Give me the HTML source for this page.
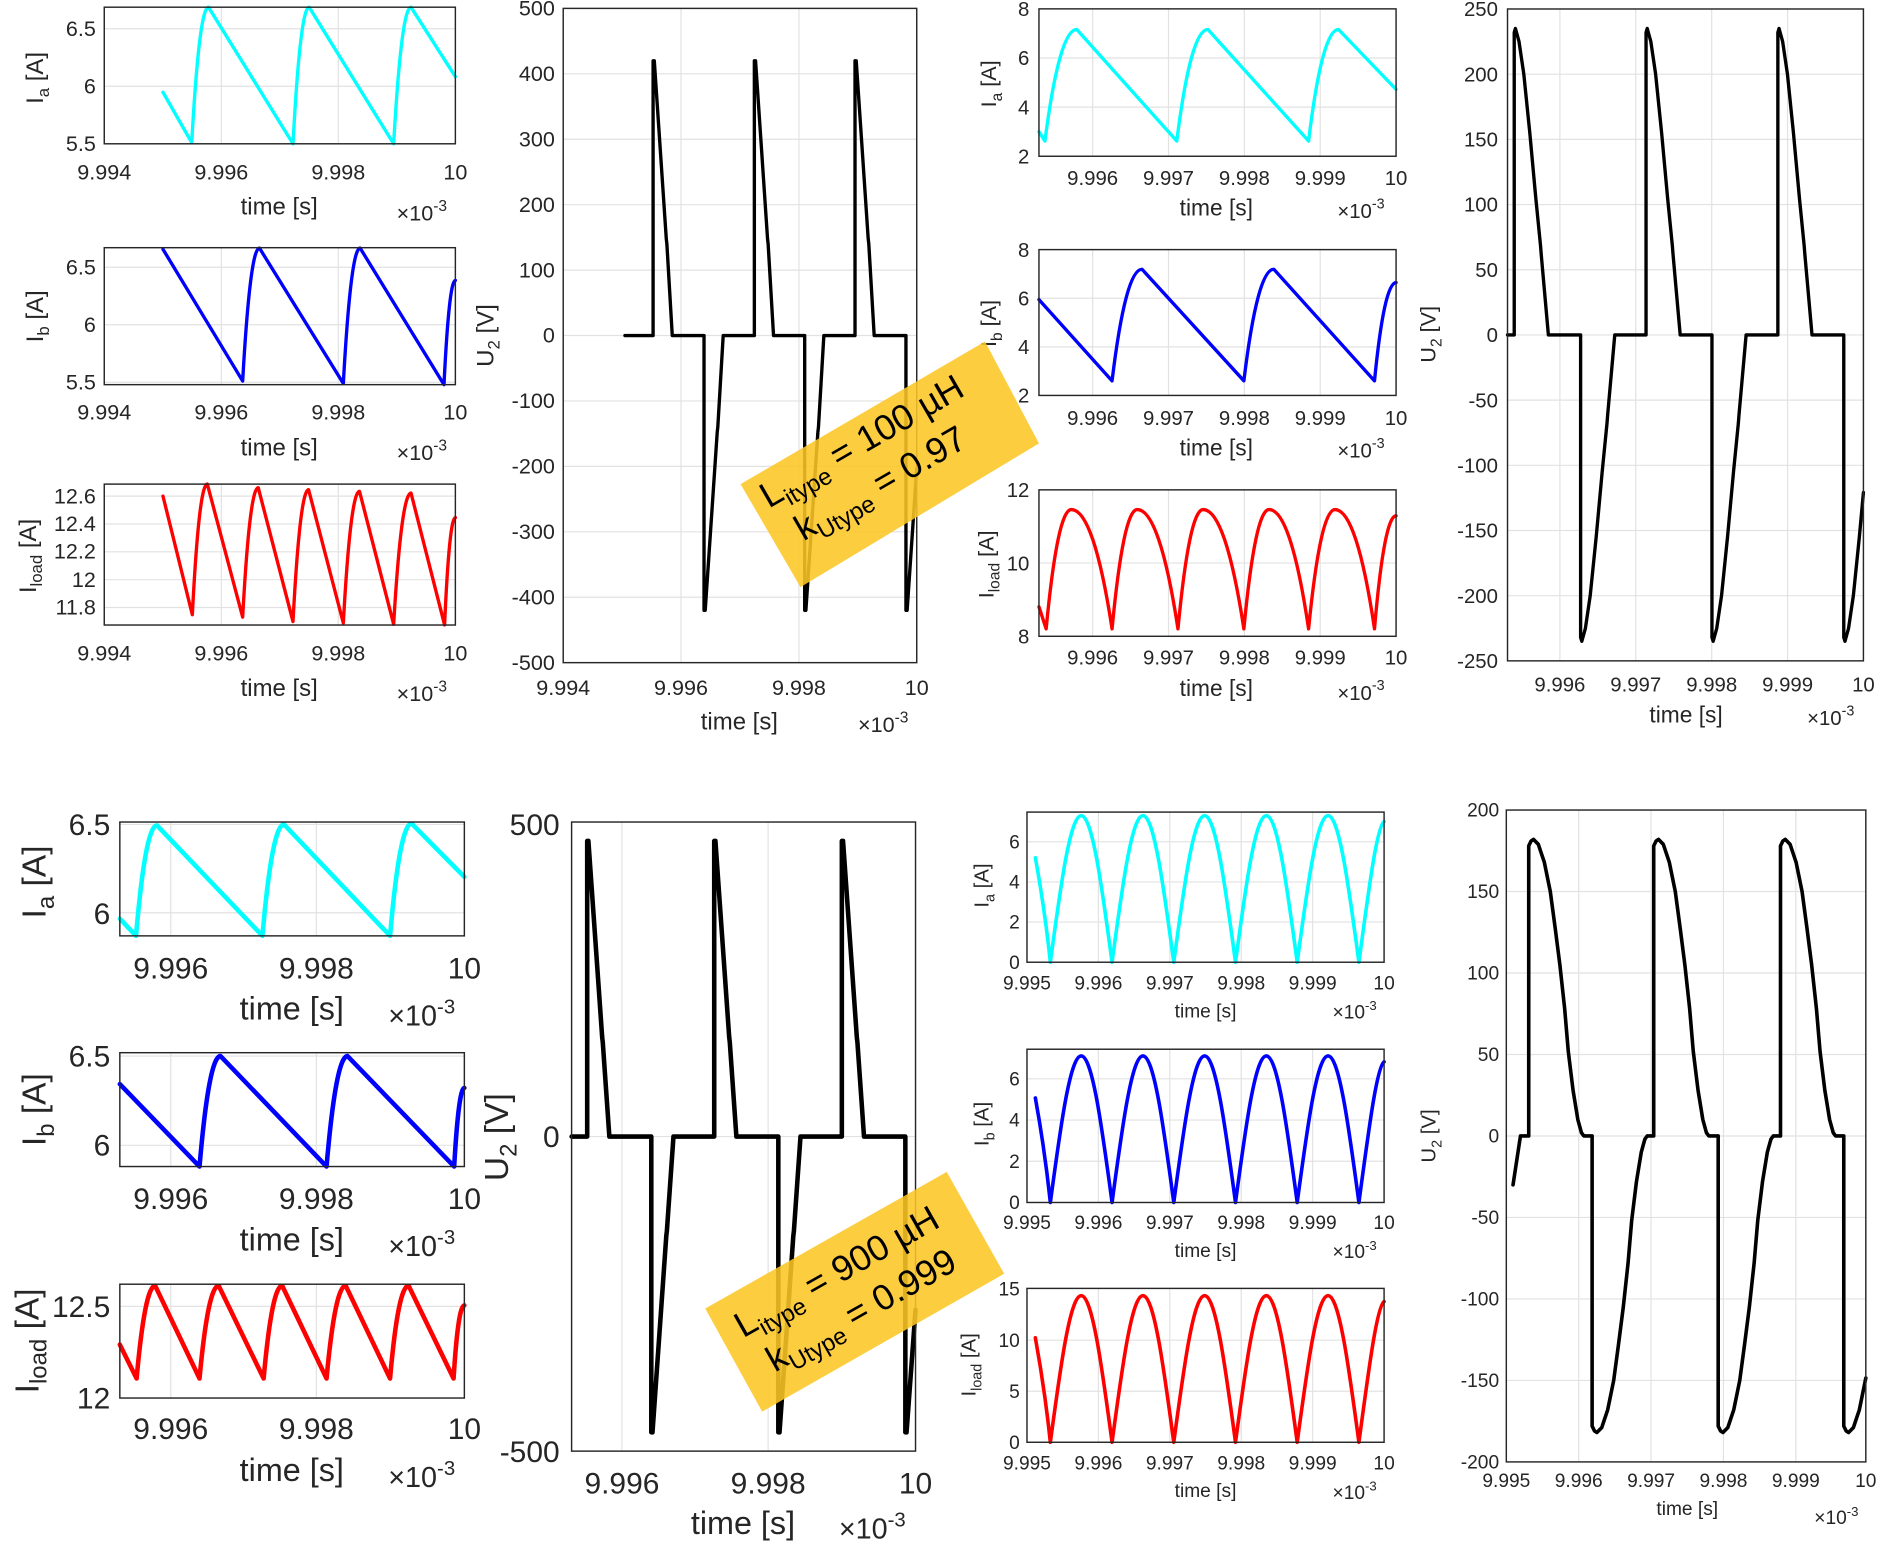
<!DOCTYPE html>
<html><head><meta charset="utf-8"><style>
html,body{margin:0;padding:0;background:#fff;}
svg{display:block;}
text{font-family:"Liberation Sans",Arial,sans-serif;fill:#262626;}
.a{font-size:18px}.b{font-size:17px}.c{font-size:25px}.d{font-size:16px}
</style></head><body>
<svg xmlns="http://www.w3.org/2000/svg" width="1879" height="1541" viewBox="0 0 1568 1286" preserveAspectRatio="none">
<rect width="1568" height="1286" fill="#fff"/>

<!-- grids -->
<g fill="none" stroke="#e2e2e2" stroke-width="1">
<path d="M184.7,6V120M282.3,6V120M87,24H380M87,72H380"/>
<path d="M184.7,206.7V321M282.3,206.7V321M87,223H380M87,271H380M87,319H380"/>
<path d="M184.7,404V521.6M282.3,404V521.6M87,414H380M87,437.25H380M87,460.5H380M87,483.75H380M87,507H380"/>
<path d="M568.3,7V553M666.7,7V553M470,61.6H765M470,116.2H765M470,170.8H765M470,225.4H765M470,280H765M470,334.6H765M470,389.2H765M470,443.8H765M470,498.4H765"/>
<path d="M911.8,7.4V130.4M975.1,7.4V130.4M1038.4,7.4V130.4M1101.7,7.4V130.4M867,48.4H1165M867,89.4H1165"/>
<path d="M911.8,208.3V330M975.1,208.3V330M1038.4,208.3V330M1101.7,208.3V330M867,248.9H1165M867,289.5H1165"/>
<path d="M911.8,408.8V531M975.1,408.8V531M1038.4,408.8V531M1101.7,408.8V531M867,469.9H1165"/>
<path d="M1301.7,7.5V551.5M1365,7.5V551.5M1428.4,7.5V551.5M1491.7,7.5V551.5M1258,61.9H1555M1258,116.3H1555M1258,170.7H1555M1258,225.1H1555M1258,279.5H1555M1258,333.9H1555M1258,388.3H1555M1258,442.7H1555M1258,497.1H1555"/>
<path d="M142.5,686V781M264,686V781M100,688H387.5M100,761.7H387.5"/>
<path d="M142.5,878.5V973.5M264,878.5V973.5M100,881.3H387.5M100,955.8H387.5"/>
<path d="M142.5,1071.7V1166.7M264,1071.7V1166.7M100,1090.2H387.5"/>
<path d="M519,686V1211M641,686V1211M477,948.5H764"/>
<path d="M916.6,677.7V803M976.2,677.7V803M1035.8,677.7V803M1095.4,677.7V803M857,702.5H1155M857,736H1155M857,769.5H1155"/>
<path d="M916.6,875.6V1003.5M976.2,875.6V1003.5M1035.8,875.6V1003.5M1095.4,875.6V1003.5M857,900.3H1155M857,934.7H1155M857,969.1H1155"/>
<path d="M916.6,1075.2V1203.6M976.2,1075.2V1203.6M1035.8,1075.2V1203.6M1095.4,1075.2V1203.6M857,1118.4H1155M857,1161H1155"/>
<path d="M1317.4,676V1220M1377.8,676V1220M1438.2,676V1220M1498.6,676V1220M1257,744H1557M1257,812H1557M1257,880H1557M1257,948H1557M1257,1016H1557M1257,1084H1557M1257,1152H1557"/>
</g>

<!-- curves -->
<g fill="none" stroke-linejoin="round" stroke-linecap="round">
<path stroke="#00ffff" stroke-width="2.8" d="M136,77 L160,119 Q166.3,6 174,6 L244.5,120 Q250.6,6 258,6 L328.5,120 Q335,6 343,6 L380,64"/>
<path stroke="#0000ff" stroke-width="2.8" d="M136,208 L202.5,318 Q208.8,207 216.5,207 L286.5,320 Q292.8,207 300.5,207 L370.5,321 Q374.8,234 380,234"/>
<path stroke="#ff0000" stroke-width="2.8" d="M136,414 L160.5,513 Q166.1,404 173,404 L202.5,515 Q208.4,407 215.5,407 L244.5,518.7 Q250.4,408.6 257.5,408.6 L286.5,520 Q292.6,410 300,410 L328.5,521 Q335,411.5 343,411.5 L371,521.5 Q375,432 380,432"/>
<path stroke="#000" stroke-width="2.8" d="M521.5,280 L545,280 L545,50.7 L546,50.7 L556,199.2 L556.5,203.6 L561,280 L587.5,280 L587.5,509.3 L588.5,509.3 L598.5,360.8 L599,356.4 L603.5,280 L629.5,280 L629.5,50.7 L630.5,50.7 L640.5,199.2 L641,203.6 L645.5,280 L671.5,280 L671.5,509.3 L672.5,509.3 L682.5,360.8 L683,356.4 L687.5,280 L713.5,280 L713.5,50.7 L714.5,50.7 L724.5,199.2 L725,203.6 L729.5,280 L756,280 L756,509.3 L757,509.3 L765,391"/>

<path stroke="#00ffff" stroke-width="2.8" d="M867,109.9 L872,117.7 Q884,24.6 898.6,24.6 L982,117.7 Q993.7,24.6 1008,24.6 L1092,117.7 Q1103.3,24.6 1117,24.6 L1165,74.6"/>
<path stroke="#0000ff" stroke-width="2.8" d="M867,250 L928,317.8 Q939.3,224.7 953,224.7 L1038,317.8 Q1049.3,224.7 1063,224.7 L1147,317.8 Q1155.1,235.8 1165,235.8"/>
<path stroke="#ff0000" stroke-width="2.8" d="M867,506.4 L873,524.8 Q882.5,425.2 894,425.2 Q912.7,425.2 928,524.8 Q937.5,425.2 949,425.2 Q967.7,425.2 983,524.8 Q992.5,425.2 1004,425.2 Q1022.7,425.2 1038,524.8 Q1047.5,425.2 1059,425.2 Q1077.2,425.2 1092,524.8 Q1101.9,425.2 1114,425.2 Q1132.2,425.2 1147,524.8 Q1155.1,430.5 1165,430.5"/>
<path stroke="#000" stroke-width="2.8" d="M1258,279.5 L1263.6,279.5 L1263.6,27.1 L1264.6,23.8 L1267.6,34.7 L1271.6,61.9 L1276.6,110.9 L1281.6,165.3 L1285.6,205.5 L1286.1,212 L1292.1,279.5 L1319,279.5 L1319,531.9 L1320,535.2 L1323,524.3 L1327,497.1 L1332,448.1 L1337,393.7 L1341,353.5 L1341.5,347 L1347.5,279.5 L1373.6,279.5 L1373.6,27.1 L1374.6,23.8 L1377.6,34.7 L1381.6,61.9 L1386.6,110.9 L1391.6,165.3 L1395.6,205.5 L1396.1,212 L1402.1,279.5 L1428.6,279.5 L1428.6,531.9 L1429.6,535.2 L1432.6,524.3 L1436.6,497.1 L1441.6,448.1 L1446.6,393.7 L1450.6,353.5 L1451.1,347 L1457.1,279.5 L1483.6,279.5 L1483.6,27.1 L1484.6,23.8 L1487.6,34.7 L1491.6,61.9 L1496.6,110.9 L1501.6,165.3 L1505.6,205.5 L1506.1,212 L1512.1,279.5 L1538.6,279.5 L1538.6,531.9 L1539.6,535.2 L1542.6,524.3 L1546.6,497.1 L1551.6,448.1 L1555,411"/>

<path stroke="#00ffff" stroke-width="3.8" d="M100,766.7 L113.5,781 Q121.4,688.8 131,688.8 L219,781 Q227.1,688 237,688 L325.5,781 Q333.6,687.3 343.5,687.3 L387.5,731.8"/>
<path stroke="#0000ff" stroke-width="3.8" d="M100,904.7 L166.5,973.5 Q174.4,881.3 184,881.3 L272.5,973.5 Q280.4,881.3 290,881.3 L379,973.5 Q382.8,907.9 387.5,907.9"/>
<path stroke="#ff0000" stroke-width="3.8" d="M100,1122.1 L114,1150.4 Q121,1073 129.5,1073 L166.5,1150.4 Q173.7,1073 182.5,1073 L220,1150.4 Q227,1073 235.5,1073 L272.5,1150.4 Q279.7,1073 288.5,1073 L325.5,1150.4 Q332.3,1073 341,1073 L378.5,1150.4 Q382.3,1089.4 387.5,1089.4"/>
<path stroke="#000" stroke-width="3.8" d="M477,948.5 L490,948.5 L490,701.8 L491,701.8 L502.5,865.5 L503,869.8 L508.5,948.5 L543.5,948.5 L543.5,1195.3 L544.5,1195.3 L556,1031.5 L556.5,1027.3 L562,948.5 L596,948.5 L596,701.8 L597,701.8 L608.5,865.5 L609,869.8 L614.5,948.5 L649.5,948.5 L649.5,1195.3 L650.5,1195.3 L662,1031.5 L662.5,1027.3 L668,948.5 L702.5,948.5 L702.5,701.8 L703.5,701.8 L715,865.5 L715.5,869.8 L721,948.5 L755.5,948.5 L755.5,1195.3 L756.5,1195.3 L764,1093"/>

<path id="arch" stroke="#00ffff" stroke-width="3" d="M864,715.8 Q872,760 876.5,803 C885.1,739 893,680.7 902.25,680.7 C911.5,680.7 919.4,739 928,803 C936.6,739 944.5,680.7 953.75,680.7 C963,680.7 970.9,739 979.5,803 C988.1,739 996,680.7 1005.25,680.7 C1014.5,680.7 1022.4,739 1031,803 C1039.6,739 1047.5,680.7 1056.75,680.7 C1066,680.7 1073.9,739 1082.5,803 C1091.1,739 1099,680.7 1108.25,680.7 C1117.5,680.7 1125.4,739 1134,803 C1142.6,739 1149,690 1155,685.6"/>
<path stroke="#0000ff" stroke-width="3" transform="translate(0,200.5)" d="M864,715.8 Q872,760 876.5,803 C885.1,739 893,680.7 902.25,680.7 C911.5,680.7 919.4,739 928,803 C936.6,739 944.5,680.7 953.75,680.7 C963,680.7 970.9,739 979.5,803 C988.1,739 996,680.7 1005.25,680.7 C1014.5,680.7 1022.4,739 1031,803 C1039.6,739 1047.5,680.7 1056.75,680.7 C1066,680.7 1073.9,739 1082.5,803 C1091.1,739 1099,680.7 1108.25,680.7 C1117.5,680.7 1125.4,739 1134,803 C1142.6,739 1149,690 1155,685.6"/>
<path stroke="#ff0000" stroke-width="3" transform="translate(0,400.6)" d="M864,715.8 Q872,760 876.5,803 C885.1,739 893,680.7 902.25,680.7 C911.5,680.7 919.4,739 928,803 C936.6,739 944.5,680.7 953.75,680.7 C963,680.7 970.9,739 979.5,803 C988.1,739 996,680.7 1005.25,680.7 C1014.5,680.7 1022.4,739 1031,803 C1039.6,739 1047.5,680.7 1056.75,680.7 C1066,680.7 1073.9,739 1082.5,803 C1091.1,739 1099,680.7 1108.25,680.7 C1117.5,680.7 1125.4,739 1134,803 C1142.6,739 1149,690 1155,685.6"/>

<path stroke="#000" stroke-width="3" d="M1262.6,988.8 L1268.8,948 L1275.7,948 L1275.7,705.9 L1277.7,701.8 L1279.7,700.5 L1283.7,704.6 L1288.7,719.5 L1293.7,744 L1297.7,773.9 L1301.7,805.2 L1305.7,841.9 L1308.7,877.3 L1312.7,909.9 L1316.7,934.4 L1319.7,945.3 L1321.7,948 L1328.6,948 L1328.6,1190.1 L1330.6,1194.2 L1332.6,1195.5 L1336.6,1191.4 L1341.6,1176.5 L1346.6,1152 L1350.6,1122.1 L1354.6,1090.8 L1358.6,1054.1 L1361.6,1018.7 L1365.6,986.1 L1369.6,961.6 L1372.6,950.7 L1374.6,948 L1380,948 L1380,705.9 L1382,701.8 L1384,700.5 L1388,704.6 L1393,719.5 L1398,744 L1402,773.9 L1406,805.2 L1410,841.9 L1413,877.3 L1417,909.9 L1421,934.4 L1424,945.3 L1426,948 L1433.8,948 L1433.8,1190.1 L1435.8,1194.2 L1437.8,1195.5 L1441.8,1191.4 L1446.8,1176.5 L1451.8,1152 L1455.8,1122.1 L1459.8,1090.8 L1463.8,1054.1 L1466.8,1018.7 L1470.8,986.1 L1474.8,961.6 L1477.8,950.7 L1479.8,948 L1485.8,948 L1485.8,705.9 L1487.8,701.8 L1489.8,700.5 L1493.8,704.6 L1498.8,719.5 L1503.8,744 L1507.8,773.9 L1511.8,805.2 L1515.8,841.9 L1518.8,877.3 L1522.8,909.9 L1526.8,934.4 L1529.8,945.3 L1531.8,948 L1538.6,948 L1538.6,1190.1 L1540.6,1194.2 L1542.6,1195.5 L1546.6,1191.4 L1551.6,1176.5 L1557,1150"/>
</g>

<!-- boxes -->
<g fill="none" stroke="#262626" stroke-width="1.2">
<rect x="87" y="6" width="293" height="114"/>
<rect x="87" y="206.7" width="293" height="114.3"/>
<rect x="87" y="404" width="293" height="117.6"/>
<rect x="470" y="7" width="295" height="546"/>
<rect x="867" y="7.4" width="298" height="123"/>
<rect x="867" y="208.3" width="298" height="121.7"/>
<rect x="867" y="408.8" width="298" height="122.2"/>
<rect x="1258" y="7.5" width="297" height="544"/>
<rect x="100" y="686" width="287.5" height="95"/>
<rect x="100" y="878.5" width="287.5" height="95"/>
<rect x="100" y="1071.7" width="287.5" height="95"/>
<rect x="477" y="686" width="287" height="525"/>
<rect x="857" y="677.7" width="298" height="125.3"/>
<rect x="857" y="875.6" width="298" height="127.9"/>
<rect x="857" y="1075.2" width="298" height="128.4"/>
<rect x="1257" y="676" width="300" height="544"/>
</g>

<!-- TOP LEFT small -->
<g class="a" text-anchor="end">
<text x="80" y="30">6.5</text><text x="80" y="78">6</text><text x="80" y="126">5.5</text>
<text x="80" y="229">6.5</text><text x="80" y="277">6</text><text x="80" y="325">5.5</text>
<text x="80" y="420">12.6</text><text x="80" y="443">12.4</text><text x="80" y="466">12.2</text><text x="80" y="490">12</text><text x="80" y="513">11.8</text>
</g>
<g class="a" text-anchor="middle">
<text x="87" y="150">9.994</text><text x="184.7" y="150">9.996</text><text x="282.3" y="150">9.998</text><text x="380" y="150">10</text>
<text x="87" y="350">9.994</text><text x="184.7" y="350">9.996</text><text x="282.3" y="350">9.998</text><text x="380" y="350">10</text>
<text x="87" y="551">9.994</text><text x="184.7" y="551">9.996</text><text x="282.3" y="551">9.998</text><text x="380" y="551">10</text>
</g>
<g text-anchor="middle">
<text x="233" y="179" style="font-size:20px">time [s]</text>
<text x="233" y="380" style="font-size:20px">time [s]</text>
<text x="233" y="581" style="font-size:20px">time [s]</text>
</g>
<text class="a" x="331" y="184">×10<tspan font-size="13" dy="-8">-3</tspan></text>
<text class="a" x="331" y="384">×10<tspan font-size="13" dy="-8">-3</tspan></text>
<text class="a" x="331" y="585">×10<tspan font-size="13" dy="-8">-3</tspan></text>
<text style="font-size:20px" text-anchor="middle" transform="translate(36,65) rotate(-90)">I<tspan font-size="14" dy="5">a</tspan><tspan dy="-5"> [A]</tspan></text>
<text style="font-size:20px" text-anchor="middle" transform="translate(36,264) rotate(-90)">I<tspan font-size="14" dy="5">b</tspan><tspan dy="-5"> [A]</tspan></text>
<text style="font-size:20px" text-anchor="middle" transform="translate(30,464) rotate(-90)">I<tspan font-size="14" dy="5">load</tspan><tspan dy="-5"> [A]</tspan></text>

<!-- TOP LEFT U2 -->
<g class="a" text-anchor="end">
<text x="463" y="13">500</text><text x="463" y="67.6">400</text><text x="463" y="122.2">300</text><text x="463" y="176.8">200</text><text x="463" y="231.4">100</text><text x="463" y="286">0</text><text x="463" y="340.6">-100</text><text x="463" y="395.2">-200</text><text x="463" y="449.8">-300</text><text x="463" y="504.4">-400</text><text x="463" y="559">-500</text>
</g>
<g class="a" text-anchor="middle">
<text x="470" y="580">9.994</text><text x="568.3" y="580">9.996</text><text x="666.7" y="580">9.998</text><text x="765" y="580">10</text>
</g>
<text style="font-size:20px" x="617" y="609" text-anchor="middle">time [s]</text>
<text class="a" x="716" y="611">×10<tspan font-size="13" dy="-8">-3</tspan></text>
<text style="font-size:20px" text-anchor="middle" transform="translate(412,280) rotate(-90)">U<tspan font-size="14" dy="5">2</tspan><tspan dy="-5"> [V]</tspan></text>

<!-- TOP RIGHT small -->
<g class="b" text-anchor="end">
<text x="859" y="13.4">8</text><text x="859" y="54.4">6</text><text x="859" y="95.4">4</text><text x="859" y="136.4">2</text>
<text x="859" y="214.3">8</text><text x="859" y="254.9">6</text><text x="859" y="295.5">4</text><text x="859" y="336">2</text>
<text x="859" y="414.8">12</text><text x="859" y="475.9">10</text><text x="859" y="537">8</text>
</g>
<g class="b" text-anchor="middle">
<text x="911.8" y="154.5">9.996</text><text x="975.1" y="154.5">9.997</text><text x="1038.4" y="154.5">9.998</text><text x="1101.7" y="154.5">9.999</text><text x="1165" y="154.5">10</text>
<text x="911.8" y="354.5">9.996</text><text x="975.1" y="354.5">9.997</text><text x="1038.4" y="354.5">9.998</text><text x="1101.7" y="354.5">9.999</text><text x="1165" y="354.5">10</text>
<text x="911.8" y="554.6">9.996</text><text x="975.1" y="554.6">9.997</text><text x="1038.4" y="554.6">9.998</text><text x="1101.7" y="554.6">9.999</text><text x="1165" y="554.6">10</text>
</g>
<g text-anchor="middle">
<text style="font-size:19px" x="1015" y="180">time [s]</text>
<text style="font-size:19px" x="1015" y="380">time [s]</text>
<text style="font-size:19px" x="1015" y="581">time [s]</text>
</g>
<text class="b" x="1116" y="182">×10<tspan font-size="12" dy="-8">-3</tspan></text>
<text class="b" x="1116" y="382">×10<tspan font-size="12" dy="-8">-3</tspan></text>
<text class="b" x="1116" y="584">×10<tspan font-size="12" dy="-8">-3</tspan></text>
<text style="font-size:18px" text-anchor="middle" transform="translate(831,70) rotate(-90)">I<tspan font-size="13" dy="5">a</tspan><tspan dy="-5"> [A]</tspan></text>
<text style="font-size:18px" text-anchor="middle" transform="translate(831,270) rotate(-90)">I<tspan font-size="13" dy="5">b</tspan><tspan dy="-5"> [A]</tspan></text>
<text style="font-size:18px" text-anchor="middle" transform="translate(829,471) rotate(-90)">I<tspan font-size="13" dy="5">load</tspan><tspan dy="-5"> [A]</tspan></text>

<!-- TOP RIGHT U2 -->
<g class="b" text-anchor="end">
<text x="1250" y="13.5">250</text><text x="1250" y="67.9">200</text><text x="1250" y="122.3">150</text><text x="1250" y="176.7">100</text><text x="1250" y="231.1">50</text><text x="1250" y="285.5">0</text><text x="1250" y="339.9">-50</text><text x="1250" y="394.3">-100</text><text x="1250" y="448.7">-150</text><text x="1250" y="503.1">-200</text><text x="1250" y="557.5">-250</text>
</g>
<g class="b" text-anchor="middle">
<text x="1301.7" y="577">9.996</text><text x="1365" y="577">9.997</text><text x="1428.4" y="577">9.998</text><text x="1491.7" y="577">9.999</text><text x="1555" y="577">10</text>
</g>
<text style="font-size:19px" x="1407" y="603" text-anchor="middle">time [s]</text>
<text class="b" x="1508" y="605">×10<tspan font-size="12" dy="-8">-3</tspan></text>
<text style="font-size:18px" text-anchor="middle" transform="translate(1198,279) rotate(-90)">U<tspan font-size="13" dy="5">2</tspan><tspan dy="-5"> [V]</tspan></text>

<!-- BOTTOM LEFT small -->
<g class="c" text-anchor="end">
<text x="92" y="697">6.5</text><text x="92" y="771">6</text>
<text x="92" y="890">6.5</text><text x="92" y="964.5">6</text>
<text x="92" y="1099">12.5</text><text x="92" y="1175.5">12</text>
</g>
<g class="c" text-anchor="middle">
<text x="142.5" y="816.5">9.996</text><text x="264" y="816.5">9.998</text><text x="387.5" y="816.5">10</text>
<text x="142.5" y="1009">9.996</text><text x="264" y="1009">9.998</text><text x="387.5" y="1009">10</text>
<text x="142.5" y="1201">9.996</text><text x="264" y="1201">9.998</text><text x="387.5" y="1201">10</text>
</g>
<g text-anchor="middle">
<text style="font-size:27px" x="243.5" y="851">time [s]</text>
<text style="font-size:27px" x="243.5" y="1043.5">time [s]</text>
<text style="font-size:27px" x="243.5" y="1236">time [s]</text>
</g>
<text style="font-size:24px" x="324" y="856">×10<tspan font-size="17" dy="-10">-3</tspan></text>
<text style="font-size:24px" x="324" y="1048">×10<tspan font-size="17" dy="-10">-3</tspan></text>
<text style="font-size:24px" x="324" y="1241">×10<tspan font-size="17" dy="-10">-3</tspan></text>
<text style="font-size:28px" text-anchor="middle" transform="translate(38,736) rotate(-90)">I<tspan font-size="20" dy="7">a</tspan><tspan dy="-7"> [A]</tspan></text>
<text style="font-size:28px" text-anchor="middle" transform="translate(38,926) rotate(-90)">I<tspan font-size="20" dy="7">b</tspan><tspan dy="-7"> [A]</tspan></text>
<text style="font-size:28px" text-anchor="middle" transform="translate(32,1119) rotate(-90)">I<tspan font-size="20" dy="7">load</tspan><tspan dy="-7"> [A]</tspan></text>

<!-- BOTTOM LEFT U2 -->
<g class="c" text-anchor="end">
<text x="467" y="697">500</text><text x="467" y="957">0</text><text x="467" y="1220">-500</text>
</g>
<g class="c" text-anchor="middle">
<text x="519" y="1246.5">9.996</text><text x="641" y="1246.5">9.998</text><text x="764" y="1246.5">10</text>
</g>
<text style="font-size:27px" x="620" y="1280" text-anchor="middle">time [s]</text>
<text style="font-size:24px" x="700" y="1284">×10<tspan font-size="17" dy="-10">-3</tspan></text>
<text style="font-size:28px" text-anchor="middle" transform="translate(424,949) rotate(-90)">U<tspan font-size="20" dy="7">2</tspan><tspan dy="-7"> [V]</tspan></text>

<!-- BOTTOM RIGHT small -->
<g class="d" text-anchor="end">
<text x="851" y="708">6</text><text x="851" y="775">2</text><text x="851" y="741.5">4</text><text x="851" y="808.5">0</text>
<text x="851" y="905.8">6</text><text x="851" y="940.2">4</text><text x="851" y="974.6">2</text><text x="851" y="1009">0</text>
<text x="851" y="1081.3">15</text><text x="851" y="1123.9">10</text><text x="851" y="1166.5">5</text><text x="851" y="1209.1">0</text>
</g>
<g class="d" text-anchor="middle">
<text x="857" y="825.7">9.995</text><text x="916.6" y="825.7">9.996</text><text x="976.2" y="825.7">9.997</text><text x="1035.8" y="825.7">9.998</text><text x="1095.4" y="825.7">9.999</text><text x="1155" y="825.7">10</text>
<text x="857" y="1025.5">9.995</text><text x="916.6" y="1025.5">9.996</text><text x="976.2" y="1025.5">9.997</text><text x="1035.8" y="1025.5">9.998</text><text x="1095.4" y="1025.5">9.999</text><text x="1155" y="1025.5">10</text>
<text x="857" y="1226.3">9.995</text><text x="916.6" y="1226.3">9.996</text><text x="976.2" y="1226.3">9.997</text><text x="1035.8" y="1226.3">9.998</text><text x="1095.4" y="1226.3">9.999</text><text x="1155" y="1226.3">10</text>
<text x="1006" y="849">time [s]</text><text x="1006" y="1049">time [s]</text><text x="1006" y="1249.5">time [s]</text>
</g>
<text class="d" x="1112" y="850">×10<tspan font-size="11" dy="-7">-3</tspan></text>
<text class="d" x="1112" y="1050">×10<tspan font-size="11" dy="-7">-3</tspan></text>
<text class="d" x="1112" y="1251">×10<tspan font-size="11" dy="-7">-3</tspan></text>
<text style="font-size:17px" text-anchor="middle" transform="translate(825,739) rotate(-90)">I<tspan font-size="12" dy="5">a</tspan><tspan dy="-5"> [A]</tspan></text>
<text style="font-size:17px" text-anchor="middle" transform="translate(825,938) rotate(-90)">I<tspan font-size="12" dy="5">b</tspan><tspan dy="-5"> [A]</tspan></text>
<text style="font-size:17px" text-anchor="middle" transform="translate(814,1139) rotate(-90)">I<tspan font-size="12" dy="5">load</tspan><tspan dy="-5"> [A]</tspan></text>

<!-- BOTTOM RIGHT U2 -->
<g class="d" text-anchor="end">
<text x="1251" y="681.5">200</text><text x="1251" y="749.5">150</text><text x="1251" y="817.5">100</text><text x="1251" y="885.5">50</text><text x="1251" y="953.5">0</text><text x="1251" y="1021.5">-50</text><text x="1251" y="1089.5">-100</text><text x="1251" y="1157.5">-150</text><text x="1251" y="1225.5">-200</text>
</g>
<g class="d" text-anchor="middle">
<text x="1257" y="1241">9.995</text><text x="1317.4" y="1241">9.996</text><text x="1377.8" y="1241">9.997</text><text x="1438.2" y="1241">9.998</text><text x="1498.6" y="1241">9.999</text><text x="1557" y="1241">10</text>
<text x="1408" y="1264.5">time [s]</text>
</g>
<text class="d" x="1514" y="1272">×10<tspan font-size="11" dy="-7">-3</tspan></text>
<text style="font-size:17px" text-anchor="middle" transform="translate(1198,948) rotate(-90)">U<tspan font-size="12" dy="5">2</tspan><tspan dy="-5"> [V]</tspan></text>

<!-- annotation boxes -->
<polygon points="618,404 822,285 867,370 668,490" fill="#fdc626" fill-opacity="0.88"/>
<g transform="translate(724,377) rotate(-30)">
<text x="0" y="0" text-anchor="middle" style="font-size:30px;fill:#000">L<tspan font-size="20" dy="7">itype</tspan><tspan dy="-7"> = 100 µH</tspan></text>
<text x="-4" y="38" text-anchor="middle" style="font-size:30px;fill:#000">k<tspan font-size="20" dy="7">Utype</tspan><tspan dy="-7"> = 0.97</tspan></text>
</g>
<polygon points="588.5,1092 790,978 838,1063 636,1178" fill="#fdc626" fill-opacity="0.88"/>
<g transform="translate(703,1070) rotate(-29.5)">
<text x="0" y="0" text-anchor="middle" style="font-size:30px;fill:#000">L<tspan font-size="20" dy="7">itype</tspan><tspan dy="-7"> = 900 µH</tspan></text>
<text x="2" y="38" text-anchor="middle" style="font-size:30px;fill:#000">k<tspan font-size="20" dy="7">Utype</tspan><tspan dy="-7"> = 0.999</tspan></text>
</g>
</svg>
</body></html>
